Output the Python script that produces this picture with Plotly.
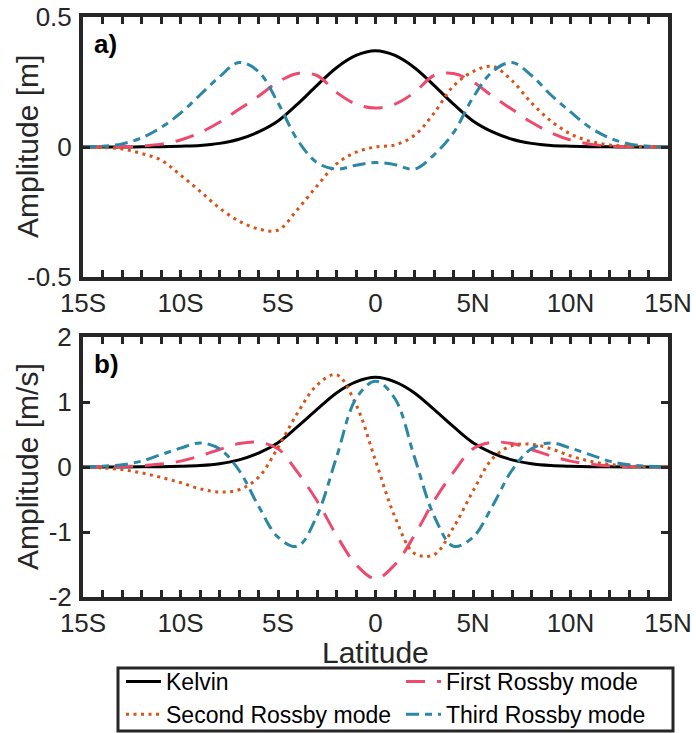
import plotly.graph_objects as go

# ---------------- data ----------------
lat = list(range(-15, 16))

kelvin_a = [0, 0, 0, 0.0005, 0.001, 0.003, 0.006, 0.014, 0.03, 0.058, 0.10, 0.165, 0.237, 0.305, 0.352,
            0.37,
            0.352, 0.305, 0.237, 0.165, 0.10, 0.058, 0.03, 0.014, 0.006, 0.003, 0.001, 0.0005, 0, 0, 0]
first_a = [0, 0, 0.001, 0.004, 0.011, 0.027, 0.055, 0.095, 0.145, 0.195, 0.25, 0.283, 0.275, 0.21, 0.165,
           0.15,
           0.165, 0.21, 0.275, 0.283, 0.25, 0.195, 0.145, 0.095, 0.055, 0.027, 0.011, 0.004, 0.001, 0, 0]
second_a = [0, -0.002, -0.008, -0.025, -0.05, -0.108, -0.17, -0.235, -0.285, -0.315, -0.32, -0.24, -0.15, -0.065, -0.02,
            0.0,
            0.008, 0.045, 0.13, 0.235, 0.29, 0.31, 0.255, 0.17, 0.1, 0.05, 0.022, 0.008, 0.003, 0.001, 0]
third_a = [0, 0.003, 0.012, 0.035, 0.075, 0.13, 0.2, 0.27, 0.325, 0.29, 0.17, 0.027, -0.06, -0.085, -0.07,
           -0.06,
           -0.068, -0.085, -0.03, 0.055, 0.19, 0.29, 0.325, 0.275, 0.2, 0.135, 0.075, 0.035, 0.012, 0.003, 0]

kelvin_b = [0, 0, 0.001, 0.002, 0.004, 0.01, 0.022, 0.05, 0.11, 0.215, 0.375, 0.62, 0.885, 1.14, 1.31,
            1.38,
            1.31, 1.14, 0.885, 0.62, 0.375, 0.215, 0.11, 0.05, 0.022, 0.01, 0.004, 0.002, 0.001, 0, 0]
first_b = [0, 0.002, 0.006, 0.018, 0.045, 0.09, 0.17, 0.27, 0.36, 0.38, 0.28, -0.08, -0.52, -1.05, -1.5,
           -1.72,
           -1.5, -1.05, -0.52, -0.08, 0.28, 0.38, 0.36, 0.27, 0.17, 0.09, 0.045, 0.018, 0.006, 0.002, 0]
second_b = [0, -0.015, -0.04, -0.09, -0.16, -0.24, -0.335, -0.385, -0.35, -0.16, 0.3, 0.83, 1.26, 1.42, 0.96,
            0.1,
            -0.77, -1.33, -1.35, -0.93, -0.37, 0.13, 0.33, 0.35, 0.28, 0.17, 0.09, 0.04, 0.015, 0.004, 0]
third_b = [0, 0.012, 0.035, 0.09, 0.19, 0.29, 0.37, 0.28, -0.05, -0.6, -1.08, -1.22, -0.75, 0.15, 1.05,
           1.32,
           1.05, 0.15, -0.75, -1.22, -1.08, -0.6, -0.05, 0.28, 0.37, 0.29, 0.19, 0.09, 0.035, 0.012, 0]

series_names = ["Kelvin", "First Rossby mode", "Second Rossby mode", "Third Rossby mode"]
panel_a = [kelvin_a, first_a, second_a, third_a]
panel_b = [kelvin_b, first_b, second_b, third_b]

x_tickvals = [-15, -10, -5, 0, 5, 10, 15]
x_ticktext = ["15S", "10S", "5S", "0", "5N", "10N", "15N"]
ya_tickvals = [-0.5, 0, 0.5]
ya_ticktext = ["-0.5", "0", "0.5"]
yb_tickvals = [-2, -1, 0, 1, 2]
yb_ticktext = ["-2", "-1", "0", "1", "2"]

# ---------------- styles ----------------
colors = ["#000000", "#EE4A6E", "#D95319", "#2C87A6"]
dashes = ["solid", "19px,12px", "3px,4.5px", "13px,6px,7px,6px"]
FONT = "Liberation Sans, Arial, sans-serif"
AX = "#262626"

W, H = 696, 733
def px(x):
    return x / W
def py(y):
    return 1 - y / H

fig = go.Figure()
for i, name in enumerate(series_names):
    fig.add_trace(go.Scatter(x=lat, y=panel_a[i], mode="lines", name=name,
                             line=dict(color=colors[i], width=3, dash=dashes[i], shape="spline"),
                             xaxis="x", yaxis="y", legendgroup=name, showlegend=True))
for i, name in enumerate(series_names):
    fig.add_trace(go.Scatter(x=lat, y=panel_b[i], mode="lines", name=name,
                             line=dict(color=colors[i], width=3, dash=dashes[i], shape="spline"),
                             xaxis="x2", yaxis="y2", legendgroup=name, showlegend=False))

common = dict(showline=True, linewidth=4, linecolor=AX, mirror="allticks",
              ticks="inside", ticklen=7, tickwidth=3, tickcolor=AX,
              showgrid=False, zeroline=False,
              tickfont=dict(family=FONT, size=26, color=AX))
xcommon = dict(common, range=[-15, 15], tickmode="array", tickvals=x_tickvals, ticktext=x_ticktext,
               minor=dict(dtick=1, tick0=0, ticks="inside", ticklen=7, tickwidth=3, tickcolor=AX),
               ticklabelstandoff=0)
xdom = [px(83), px(668)]

fig.update_layout(
    width=W, height=H,
    margin=dict(l=0, r=0, t=0, b=0, autoexpand=False),
    paper_bgcolor="white", plot_bgcolor="white",
    xaxis=dict(xcommon, domain=xdom, anchor="y"),
    yaxis=dict(common, domain=[py(277), py(17)], range=[-0.5, 0.5], tickmode="array",
               tickvals=ya_tickvals, ticktext=ya_ticktext, anchor="x", ticklabelstandoff=2),
    xaxis2=dict(xcommon, domain=xdom, anchor="y2"),
    yaxis2=dict(common, domain=[py(597), py(337)], range=[-2, 2], tickmode="array",
                tickvals=yb_tickvals, ticktext=yb_ticktext, anchor="x2", ticklabelstandoff=2),
    showlegend=True,
    legend=dict(orientation="h", x=px(121), y=py(660), xanchor="left", yanchor="top",
                borderwidth=0, bgcolor="rgba(0,0,0,0)",
                font=dict(family=FONT, size=23, color="#000000"),
                entrywidth=230, entrywidthmode="pixels", itemwidth=35,
                traceorder="normal", tracegroupgap=0),
    shapes=[
        dict(type="rect", xref="paper", yref="paper",
             x0=px(118), x1=px(673), y0=py(731), y1=py(668),
             line=dict(color=AX, width=3), fillcolor="rgba(0,0,0,0)", layer="below"),
    ],
    annotations=[
        dict(text="Amplitude [m]", x=px(27), y=py(147), xref="paper", yref="paper",
             textangle=-90, showarrow=False, font=dict(family=FONT, size=30, color=AX),
             xanchor="center", yanchor="middle"),
        dict(text="Amplitude [m/s]", x=px(27), y=py(467), xref="paper", yref="paper",
             textangle=-90, showarrow=False, font=dict(family=FONT, size=30, color=AX),
             xanchor="center", yanchor="middle"),
        dict(text="Latitude", x=px(375.5), y=py(652), xref="paper", yref="paper",
             showarrow=False, font=dict(family=FONT, size=30, color=AX),
             xanchor="center", yanchor="middle"),
        dict(text="<b>a)</b>", x=px(92), y=py(44), xref="paper", yref="paper",
             showarrow=False, font=dict(family=FONT, size=26, color="#000000"),
             xanchor="left", yanchor="middle"),
        dict(text="<b>b)</b>", x=px(92), y=py(364), xref="paper", yref="paper",
             showarrow=False, font=dict(family=FONT, size=26, color="#000000"),
             xanchor="left", yanchor="middle"),
    ],
)

fig.write_html("out.html")
